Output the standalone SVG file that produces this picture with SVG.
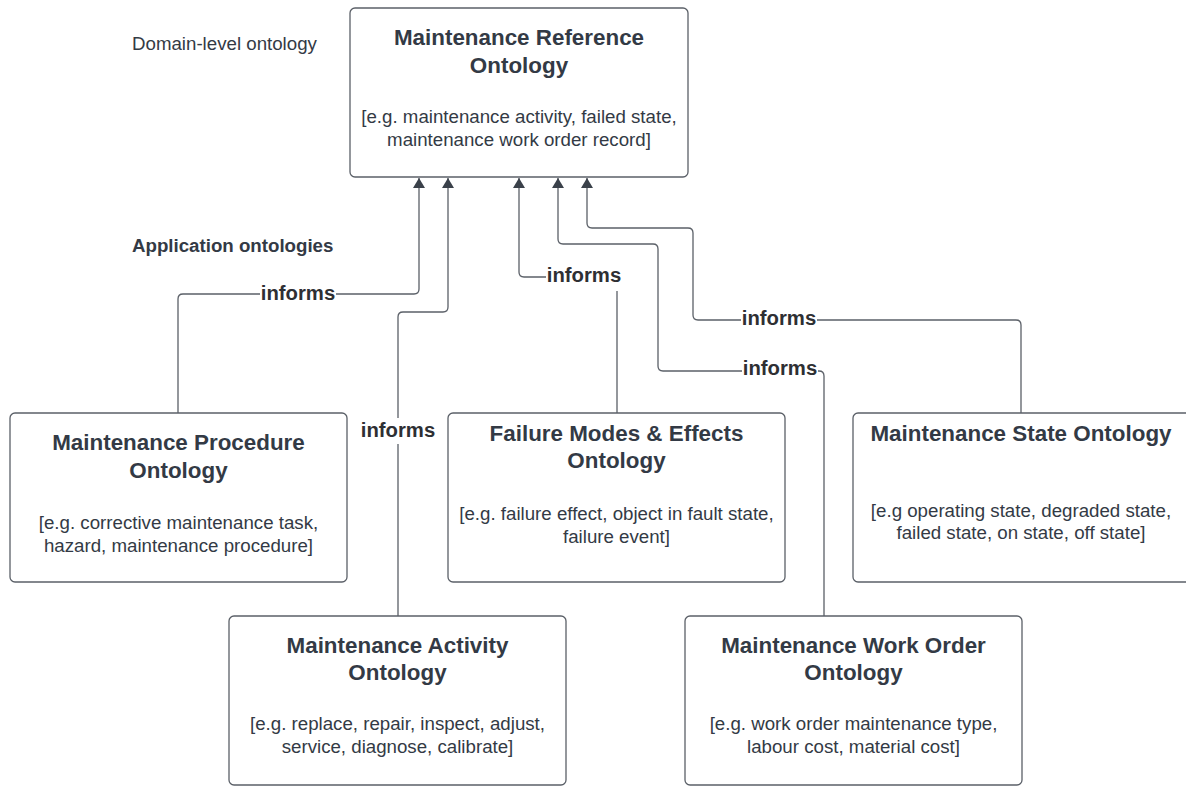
<svg xmlns="http://www.w3.org/2000/svg" width="1186" height="786" viewBox="0 0 1186 786">
<style>
.box{fill:#ffffff;stroke:#5b6068;stroke-width:1.3}
.t{font-family:"Liberation Sans",Arial,sans-serif;font-weight:bold;font-size:22.4px;fill:#333a45;text-anchor:middle}
.b{font-family:"Liberation Sans",Arial,sans-serif;font-size:18.7px;fill:#333a45;text-anchor:middle}
.side{font-family:"Liberation Sans",Arial,sans-serif;font-size:18.7px;fill:#333a45}
.lbl{font-family:"Liberation Sans",Arial,sans-serif;font-weight:bold;font-size:20.3px;fill:#2e2f33;text-anchor:middle}
.ln{fill:none;stroke:#5b6068;stroke-width:1.3;stroke-linejoin:round}
.bg{fill:#ffffff}
</style>
<defs>
<marker id="ah" viewBox="0 0 10 14" refX="10" refY="7" markerWidth="10" markerHeight="14" markerUnits="userSpaceOnUse" orient="auto">
<path d="M0,1 L10,7 L0,13 Z" fill="#3a414a"/>
</marker>
</defs>
<rect width="1186" height="786" fill="#ffffff"/>
<text class="side" x="132" y="50">Domain-level ontology</text>
<text class="side" x="132" y="252" font-weight="bold">Application ontologies</text>

<g id="connectors">
<path class="ln" marker-end="url(#ah)" d="M178,413 V299 Q178,294 183,294 H414 Q419,294 419,289 V178"/>
<path class="ln" marker-end="url(#ah)" d="M398,616 V317 Q398,312 403,312 H443 Q448,312 448,307 V178"/>
<path class="ln" marker-end="url(#ah)" d="M617,413 V277 H524 Q519,277 519,272 V178"/>
<path class="ln" marker-end="url(#ah)" d="M1021,413 V325 Q1021,320 1016,320 H698 Q693,320 693,315 V233 Q693,228 688,228 H592 Q587,228 587,223 V178"/>
<path class="ln" marker-end="url(#ah)" d="M824,616 V376 Q824,371 819,371 H663 Q658,371 658,366 V249 Q658,244 653,244 H563 Q558,244 558,239 V178"/>
<rect class="bg" x="260" y="282" width="76" height="22"/>
<text class="lbl" x="298" y="300">informs</text>
<rect class="bg" x="359" y="418" width="78" height="26"/>
<text class="lbl" x="398" y="437">informs</text>
<rect class="bg" x="546" y="263" width="78" height="28"/>
<text class="lbl" x="584" y="282">informs</text>
<rect class="bg" x="741" y="308" width="76" height="22"/>
<text class="lbl" x="779" y="325">informs</text>
<rect class="bg" x="742" y="358" width="76" height="22"/>
<text class="lbl" x="780" y="375">informs</text>
</g>

<g id="reference">
<rect class="box" x="350" y="8" width="338" height="169" rx="5"/>
<text class="t" x="519" y="45">Maintenance Reference</text>
<text class="t" x="519" y="73">Ontology</text>
<text class="b" x="519" y="123">[e.g. maintenance activity, failed state,</text>
<text class="b" x="519" y="146">maintenance work order record]</text>
</g>

<g id="procedure">
<rect class="box" x="10" y="413" width="337" height="169" rx="5"/>
<text class="t" x="178.5" y="450">Maintenance Procedure</text>
<text class="t" x="178.5" y="478">Ontology</text>
<text class="b" x="178.5" y="529">[e.g. corrective maintenance task,</text>
<text class="b" x="178.5" y="552">hazard, maintenance procedure]</text>
</g>

<g id="failure">
<rect class="box" x="448" y="413" width="337" height="169" rx="5"/>
<text class="t" x="616.5" y="441">Failure Modes &amp; Effects</text>
<text class="t" x="616.5" y="468">Ontology</text>
<text class="b" x="616.5" y="520">[e.g. failure effect, object in fault state,</text>
<text class="b" x="616.5" y="543">failure event]</text>
</g>

<g id="state">
<rect class="box" x="853" y="413" width="345" height="169" rx="5"/>
<text class="t" x="1021" y="441">Maintenance State Ontology</text>
<text class="b" x="1021" y="517">[e.g operating state, degraded state,</text>
<text class="b" x="1021" y="539">failed state, on state, off state]</text>
</g>

<g id="activity">
<rect class="box" x="229" y="616" width="337" height="169" rx="5"/>
<text class="t" x="397.5" y="653">Maintenance Activity</text>
<text class="t" x="397.5" y="680">Ontology</text>
<text class="b" x="397.5" y="730">[e.g. replace, repair, inspect, adjust,</text>
<text class="b" x="397.5" y="753">service, diagnose, calibrate]</text>
</g>

<g id="workorder">
<rect class="box" x="685" y="616" width="337" height="169" rx="5"/>
<text class="t" x="853.5" y="653">Maintenance Work Order</text>
<text class="t" x="853.5" y="680">Ontology</text>
<text class="b" x="853.5" y="730">[e.g. work order maintenance type,</text>
<text class="b" x="853.5" y="753">labour cost, material cost]</text>
</g>
</svg>
